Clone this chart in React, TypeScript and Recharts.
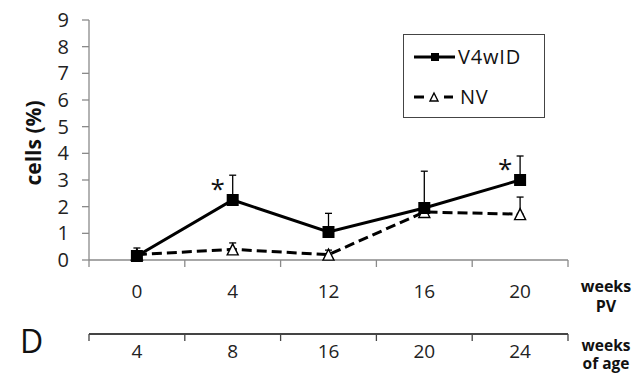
import {
  ErrorBar,
  LabelList,
  Legend,
  Line,
  LineChart,
  XAxis,
  YAxis,
} from "recharts";

const WEEKS_PV = ["0", "4", "12", "16", "20"];
const WEEKS_AGE = ["4", "8", "16", "20", "24"];
const V4WID = [0.15, 2.25, 1.05, 1.95, 3.0];
const V4WID_ERR = [0.3, 0.93, 0.7, 1.38, 0.9];
const NV = [0.2, 0.4, 0.2, 1.8, 1.72];
const NV_ERR = [0.1, 0.24, 0.17, 0, 0.64];
const SIGNIFICANT = ["", "*", "", "", "*"];
const Y_TICKS = [0, 1, 2, 3, 4, 5, 6, 7, 8, 9];

const FONT = "'Open Sans', sans-serif";
const AXIS_GRAY = "#8a8a8a";

const data = WEEKS_PV.map((pv, i) => ({
  pv,
  age: WEEKS_AGE[i],
  v4: V4WID[i],
  v4Err: [0, V4WID_ERR[i]],
  nv: NV[i],
  nvErr: [0, NV_ERR[i]],
  sig: SIGNIFICANT[i],
}));

// ticks sit on the category boundaries, label in the middle (Excel style)
function BoundaryTick(props: any) {
  const { x, y, payload, index, visibleTicksCount, lineColor, labelDy } = props;
  const half = payload?.offset || 48;
  const last = index === visibleTicksCount - 1;
  return (
    <g>
      <line x1={x - half} x2={x - half} y1={y} y2={y + 7} stroke={lineColor} strokeWidth={1.3} />
      {last && (
        <line x1={x + half} x2={x + half} y1={y} y2={y + 7} stroke={lineColor} strokeWidth={1.3} />
      )}
      <text x={x} y={y + labelDy} textAnchor="middle" fontSize={19} fill="#222" fontFamily={FONT}>
        {payload.value}
      </text>
    </g>
  );
}

function YLabel(props: any) {
  const { viewBox } = props;
  const cx = 33;
  const cy = viewBox.y + viewBox.height / 2 + 3;
  return (
    <text
      x={cx}
      y={cy}
      transform={`rotate(-90 ${cx} ${cy})`}
      textAnchor="middle"
      dominantBaseline="central"
      fontSize={21}
      fontWeight="bold"
      fill="#111"
      fontFamily={FONT}
    >
      cells (%)
    </text>
  );
}

function TwoLines({ x, y1, y2, first, second, size = 16 }: any) {
  const style = { fontSize: size, fontWeight: "bold", fill: "#111", fontFamily: FONT };
  return (
    <g>
      <text x={x} y={y1} textAnchor="middle" {...style}>
        {first}
      </text>
      <text x={x} y={y2} textAnchor="middle" {...style}>
        {second}
      </text>
    </g>
  );
}

function PvLabel(props: any) {
  const { viewBox } = props;
  const x = viewBox.x + viewBox.width + 38;
  return <TwoLines x={x} y1={viewBox.y + 32} y2={viewBox.y + 52} first="weeks" second="PV" />;
}

function AgeLabel(props: any) {
  const { viewBox } = props;
  const x = viewBox.x + viewBox.width + 38;
  return (
    <g>
      <text x={20} y={viewBox.y + 19} fontSize={32} fill="#111" fontFamily={FONT}>
        D
      </text>
      <TwoLines
        x={x}
        y1={viewBox.y + 17}
        y2={viewBox.y + 35}
        size={15.5}
        first="weeks"
        second="of age"
      />
    </g>
  );
}

function SquareDot(props: any) {
  const { cx, cy, size = 12 } = props;
  return <rect x={cx - size / 2} y={cy - size / 2} width={size} height={size} fill="#000" />;
}

function TriangleDot(props: any) {
  const { cx, cy, size = 11 } = props;
  const pts = `${cx},${cy - size / 2} ${cx + size / 2},${cy + size / 2} ${cx - size / 2},${cy + size / 2}`;
  return <polygon points={pts} fill="#fff" stroke="#000" strokeWidth={1.4} />;
}

function renderSig(props: any) {
  const { x, y, value } = props;
  if (!value) return null;
  return (
    <text x={x - 15} y={y - 2} textAnchor="middle" fontSize={26} fill="#111" fontFamily={FONT}>
      {value}
    </text>
  );
}

function LegendBox() {
  return (
    <div
      style={{
        width: 140,
        height: 82,
        border: "1.5px solid #444",
        background: "#fff",
        fontFamily: FONT,
      }}
    >
      <svg width={140} height={82}>
        <line x1={10} x2={51} y1={22} y2={22} stroke="#000" strokeWidth={3} />
        <SquareDot cx={31} cy={22} size={8} />
        <text x={54} y={29} fontSize={20} fill="#111" letterSpacing={0.8}>
          V4wID
        </text>
        <line x1={10} x2={20} y1={62} y2={62} stroke="#000" strokeWidth={3} />
        <line x1={40} x2={49} y1={62} y2={62} stroke="#000" strokeWidth={3} />
        <TriangleDot cx={30} cy={62} size={8} />
        <text x={56} y={69} fontSize={20} fill="#111" letterSpacing={0.8}>
          NV
        </text>
      </svg>
    </div>
  );
}

export default function App() {
  return (
    <div style={{ position: "fixed", left: 0, top: 0, width: 637, height: 375, background: "#fff" }}>
      <LineChart
        width={637}
        height={375}
        data={data}
        margin={{ top: 20, right: 69, bottom: 11, left: 0 }}
      >
        <XAxis
          xAxisId="a"
          dataKey="pv"
          scale="band"
          height={74}
          tickSize={0}
          tickMargin={0}
          tickLine={false}
          axisLine={{ stroke: AXIS_GRAY, strokeWidth: 1.3 }}
          tick={<BoundaryTick lineColor={AXIS_GRAY} labelDy={38} />}
          interval={0}
          label={<PvLabel />}
        />
        <XAxis
          xAxisId="b"
          dataKey="age"
          scale="band"
          height={30}
          tickSize={0}
          tickMargin={0}
          tickLine={false}
          axisLine={{ stroke: "#444", strokeWidth: 1.8 }}
          tick={<BoundaryTick lineColor="#444" labelDy={24} />}
          interval={0}
          label={<AgeLabel />}
        />
        <YAxis
          width={89}
          domain={[0, 9]}
          ticks={Y_TICKS}
          interval={0}
          tickSize={7}
          tickMargin={13}
          axisLine={{ stroke: AXIS_GRAY, strokeWidth: 1.3 }}
          tickLine={{ stroke: AXIS_GRAY, strokeWidth: 1.3 }}
          tick={{ fill: "#222", fontSize: 20, fontFamily: FONT }}
          label={<YLabel />}
        />
        <Legend
          layout="horizontal"
          verticalAlign="middle"
          align="center"
          wrapperStyle={{ left: 403, top: 34, width: 143, height: 85 }}
          content={() => <LegendBox />}
        />
        <Line
          xAxisId="a"
          dataKey="nv"
          name="NV"
          stroke="#000"
          strokeWidth={3}
          strokeDasharray="10 5"
          dot={(p: any) => <TriangleDot key={`nv-${p.index}`} cx={p.cx} cy={p.cy} />}
          isAnimationActive={false}
        >
          <ErrorBar dataKey="nvErr" direction="y" width={3.5} stroke="#000" strokeWidth={1.3} />
        </Line>
        <Line
          xAxisId="a"
          dataKey="v4"
          name="V4wID"
          stroke="#000"
          strokeWidth={3}
          dot={(p: any) => <SquareDot key={`v4-${p.index}`} cx={p.cx} cy={p.cy} />}
          isAnimationActive={false}
        >
          <ErrorBar dataKey="v4Err" direction="y" width={3.5} stroke="#000" strokeWidth={1.3} />
          <LabelList dataKey="sig" content={renderSig} />
        </Line>
      </LineChart>
    </div>
  );
}
